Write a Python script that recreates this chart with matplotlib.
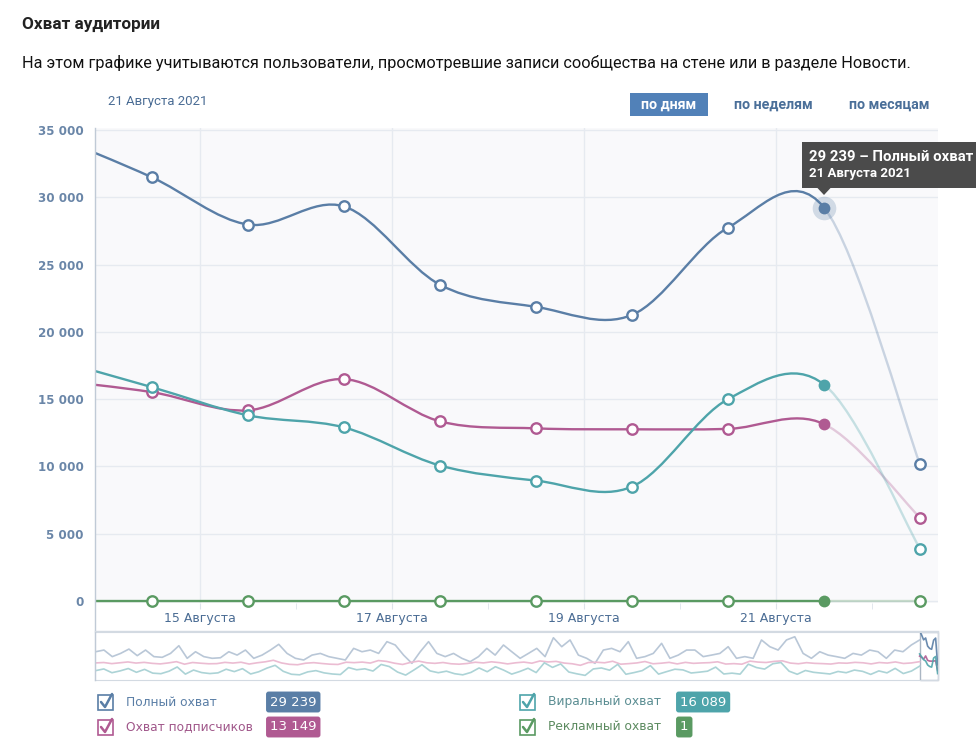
import matplotlib
matplotlib.use('Agg')
import matplotlib.pyplot as plt
import numpy as np
from matplotlib.path import Path
from matplotlib.patches import PathPatch, Rectangle, Polygon
from matplotlib.ticker import FuncFormatter, FixedLocator
from matplotlib.lines import Line2D

W, H = 976, 756

# main chart: one point per day (13..22 August), Aug 22 is incomplete
days = [13, 14, 15, 16, 17, 18, 19, 20, 21, 22]
full_reach = [34500, 31480, 27975, 29320, 23500, 21860, 21260, 27750, 29239, 10150]
subs_reach = [16400, 15520, 14170, 16490, 13350, 12830, 12760, 12790, 13149, 6190]
viral_reach = [17900, 15890, 13800, 12900, 10070, 8950, 8500, 15000, 16089, 3880]
ads_reach = [0, 0, 0, 0, 0, 0, 0, 0, 1, 0]

tick_days = [15, 17, 19, 21]
tick_labels = ['15 Августа', '17 Августа', '19 Августа', '21 Августа']
y_ticks = [0, 5000, 10000, 15000, 20000, 25000, 30000, 35000]

# overview strip (thousands), long history before the selected window
nav_full = [19.5, 20.7, 16.0, 18.3, 21.4, 16.7, 20.7, 16.0, 15.5, 18.3, 23.8, 14.8, 19.5, 16.0, 14.8,
            15.2, 19.5, 17.1, 20.7, 14.8, 17.1, 20.7, 24.8, 18.3, 14.8, 13.6, 17.1, 18.3, 16.0, 14.8,
            13.6, 21.9, 19.5, 20.7, 18.3, 26.7, 24.3,
            17.1, 11.2, 19.5, 26.7, 18.3, 16.0, 18.3, 14.8, 12.4, 16.0, 21.9, 17.1, 24.3, 19.5, 14.8,
            18.3, 21.9, 16.0, 29.5, 23.1, 27.9, 17.1, 14.8, 11.2, 20.7, 21.9, 19.5, 26.7, 14.8, 16.0,
            18.3, 25.5, 14.8, 17.1, 20.7,
            20.7, 16.0, 17.1, 18.3, 23.1, 14.8, 16.0, 14.8, 27.9, 23.1, 20.7, 27.9, 30.2, 18.3, 14.8,
            19.5, 17.1, 16.0, 14.8, 18.3, 17.1, 20.7, 19.5, 14.8, 20.7, 19.5, 24.3, 27.9]
nav_subs = [11.5, 11.8, 11.0, 11.6, 12.2, 11.4, 11.9, 11.2, 10.8, 11.5, 12.4, 10.6, 11.8, 11.3, 10.9,
            11.0, 11.9, 11.4, 12.0, 10.7, 11.6, 12.3, 13.4, 11.5, 10.5, 10.2, 11.3, 11.7, 11.1, 10.6,
            10.4, 12.0, 11.7, 12.1, 11.4, 13.2, 12.6,
            11.3, 10.4, 11.9, 12.8, 11.6, 11.2, 11.8, 10.9, 10.6, 11.1, 12.0, 11.5, 12.3, 11.7, 10.8,
            11.6, 12.1, 11.3, 12.9, 12.2, 12.6, 11.4, 10.9, 9.8, 11.8, 12.0, 11.6, 12.7, 10.6, 11.0,
            11.5, 12.5, 10.9, 11.3, 11.9,
            10.8, 11.9, 11.2, 11.5, 11.7, 12.3, 10.7, 11.0, 10.6, 12.8, 12.1, 11.8, 12.6, 13.0, 11.4,
            10.9, 11.7, 11.2, 11.0, 10.7, 11.5, 11.3, 11.9, 11.6, 10.8, 11.8, 11.4, 12.2, 11.1, 11.5, 12.4]
nav_viral = [6.0, 7.2, 4.5, 5.8, 7.5, 4.8, 6.9, 4.2, 3.8, 5.6, 8.6, 3.5, 6.4, 4.6, 3.9, 4.4, 7.0, 5.3,
             7.4, 3.6, 5.2, 7.8, 9.8, 5.5, 3.4, 3.0, 5.1, 6.0, 4.4, 3.6, 3.2, 8.2, 6.6, 7.3, 5.7, 10.4, 8.9,
             5.0, 2.8, 6.4, 10.2, 5.8, 4.5, 5.6, 3.8, 3.0, 4.7, 7.9, 5.2, 8.8, 6.4, 3.5, 5.4, 7.7, 4.6,
             11.6, 8.3, 10.8, 5.0, 3.7, 2.6, 7.2, 7.9, 6.3, 10.5, 3.4, 4.6, 6.0, 9.6, 3.5, 5.3, 7.0,
             6.5, 4.3, 4.9, 5.6, 8.5, 3.6, 4.2, 3.5, 10.6, 8.2, 7.1, 10.9, 11.8, 5.6, 3.4, 6.1, 4.8, 4.2,
             3.6, 5.4, 4.5, 6.4, 5.5, 3.3, 5.8, 4.4, 7.6, 3.9, 5.7, 9.2]

C_FULL = '#5a7ea6'
C_SUBS = '#b05a92'
C_VIRAL = '#4ea4aa'
C_ADS = '#5a9a62'


def fx(x):
    return x / W


def fy(y):
    return 1 - y / H


def spline(xs, ys, i0, i1):
    # catmull-rom through the points, drawn as bezier segments
    n = len(xs)
    verts = [(xs[i0], ys[i0])]
    codes = [Path.MOVETO]
    for i in range(i0, i1):
        p0 = max(i - 1, 0)
        p3 = min(i + 2, n - 1)
        c1 = (xs[i] + (xs[i + 1] - xs[p0]) / 6, ys[i] + (ys[i + 1] - ys[p0]) / 6)
        c2 = (xs[i + 1] - (xs[p3] - xs[i]) / 6, ys[i + 1] - (ys[p3] - ys[i]) / 6)
        verts += [c1, c2, (xs[i + 1], ys[i + 1])]
        codes += [Path.CURVE4] * 3
    return Path(verts, codes)


plt.rcParams['font.family'] = ['DejaVu Sans']
fig = plt.figure(figsize=(W / 100, H / 100), dpi=100)

# header
fig.text(fx(22), fy(24), 'Охват аудитории', fontsize=12.3, family='Roboto', weight='bold',
         color='#222222', va='center')
fig.text(fx(22), fy(63), 'На этом графике учитываются пользователи, просмотревшие записи сообщества на стене или в разделе Новости.',
         fontsize=11.7, family='Roboto', color='#111111', va='center')
fig.text(fx(108), fy(101), '21 Августа 2021', fontsize=9.5, family='Roboto', color='#4a6c94', va='center')

fig.patches.append(Rectangle((fx(630), fy(116)), fx(78), 23 / H, transform=fig.transFigure,
                             facecolor='#5181b8', edgecolor='none'))
fig.text(fx(669), fy(105), 'по дням', fontsize=10.3, family='Roboto', weight='bold', color='white',
         ha='center', va='center')
fig.text(fx(773), fy(105), 'по неделям', fontsize=10.3, family='Roboto', weight='bold', color='#4a6f99',
         ha='center', va='center')
fig.text(fx(889), fy(105), 'по месяцам', fontsize=10.3, family='Roboto', weight='bold', color='#4a6f99',
         ha='center', va='center')

# main chart
ax = fig.add_axes([fx(95), fy(602.5), (938 - 95) / W, (602.5 - 128) / H])
ax.set_facecolor('#f9f9fb')
ax.set_axisbelow(True)
x = np.array(days) + 0.5
ax.set_xlim(13.906, 22.6875)
ax.set_ylim(-110, 35150)
for s in ax.spines.values():
    s.set_visible(False)
ax.yaxis.set_major_locator(FixedLocator(y_ticks))
ax.yaxis.set_major_formatter(FuncFormatter(lambda v, p: f'{int(v):,}'.replace(',', ' ')))
ax.set_xticks(tick_days)
ax.set_xticklabels(tick_labels)
ax.set_xticks([16, 18, 20, 22], minor=True)
ax.grid(True, axis='both', color='#e6eaf0', lw=1)
ax.tick_params(axis='y', length=0, pad=8, labelsize=8.6, labelcolor='#6a86a8')
ax.tick_params(axis='x', which='both', length=4, color='#dde3ea', pad=3, labelsize=9, labelcolor='#4a6c94')
for lab in ax.get_yticklabels():
    lab.set_fontweight('bold')

series = [(full_reach, C_FULL), (subs_reach, C_SUBS), (viral_reach, C_VIRAL), (ads_reach, C_ADS)]
last = len(days) - 2  # index of the last complete day
for vals, col in series:
    ax.add_patch(PathPatch(spline(x, vals, 0, last), fill=False, edgecolor=col, lw=1.7,
                           capstyle='round', joinstyle='round', zorder=3))
    ax.add_patch(PathPatch(spline(x, vals, last, len(x) - 1), fill=False, edgecolor=col, lw=1.7,
                           alpha=0.3, capstyle='round', zorder=3))
for vals, col in series:
    keep = [i for i in range(1, len(x)) if i != last]
    ax.plot(x[keep], np.array(vals)[keep], 'o', ms=7.5, mfc='white', mec=col, mew=1.7,
            clip_on=False, zorder=5)
    if col == C_FULL:
        ax.plot(x[last], vals[last], 'o', ms=17, color=col, alpha=0.25, mew=0, clip_on=False, zorder=5)
    ax.plot(x[last], vals[last], 'o', ms=8.5, color=col, mew=0, clip_on=False, zorder=6)

# frame lines around chart and overview
fig.add_artist(Line2D([fx(95), fx(95)], [fy(128), fy(680)], color='#c0cad6', lw=1))
fig.add_artist(Line2D([fx(95), fx(938)], [fy(631), fy(631)], color='#d3dae2', lw=1))

# overview strip
nav = fig.add_axes([fx(95), fy(680), (938 - 95) / W, (680 - 632) / H])
nav.set_xlim(22.6875 - 421.5, 22.6875)
nav.set_ylim(-700, 33600)
nav.set_xticks([])
nav.set_yticks([])
for s in nav.spines.values():
    s.set_color('#d3dae2')
for vals, col in [(nav_full, '#b9c7d7'), (nav_subs, '#ebbcd2'), (nav_viral, '#acd3d6')]:
    nx = np.linspace(-398.5, 13.5, len(vals))
    nav.plot(nx, np.array(vals) * 1000, color=col, lw=1.2)
for vals, col in series[:3]:
    nav.plot(x, vals, color=col, lw=1.2, alpha=0.9)
nav.add_patch(Rectangle((13.906, -700), 22.6875 - 13.906, 34300, fill=False, edgecolor='#aab6c3', lw=1,
                        clip_on=False))

# tooltip
fig.patches.append(Rectangle((fx(802), fy(188)), fx(200), 46 / H, transform=fig.transFigure,
                             facecolor='#4b4b4b', edgecolor='none'))
fig.patches.append(Polygon([(fx(817), fy(187.5)), (fx(831), fy(187.5)), (fx(824), fy(195))],
                           transform=fig.transFigure, facecolor='#4b4b4b', edgecolor='none'))
fig.text(fx(809), fy(157), '29 239 – Полный охват', fontsize=10.7, family='Roboto', weight='bold',
         color='white', va='center')
fig.text(fx(809), fy(174), '21 Августа 2021', fontsize=9.5, family='Roboto', weight='bold',
         color='white', va='center')

# legend
legend_rows = [
    (98, 702, 'Полный охват', C_FULL, '#5a7ea6', 266, '29 239'),
    (98, 727, 'Охват подписчиков', C_SUBS, '#a0578a', 266, '13 149'),
    (520, 702, 'Виральный охват', C_VIRAL, '#5a8d92', 676, '16 089'),
    (520, 727, 'Рекламный охват', C_ADS, '#5b8a5f', 676, '1'),
]
for bx, by, label, col, tcol, badge_x, value in legend_rows:
    fig.patches.append(Rectangle((fx(bx), fy(by + 8)), 15 / W, 15 / H, transform=fig.transFigure,
                                 fill=False, edgecolor=col, lw=1.2))
    fig.add_artist(Line2D([fx(bx + 3), fx(bx + 7), fx(bx + 14)], [fy(by), fy(by + 5), fy(by - 8)],
                          color=col, lw=1.8, solid_capstyle='round', solid_joinstyle='round'))
    fig.text(fx(bx + 28), fy(by), label, fontsize=8.8, color=tcol, va='center')
    fig.text(fx(badge_x + 4), fy(by), value, fontsize=9.5, color='white', va='center',
             bbox=dict(boxstyle='round,pad=0.3,rounding_size=0.2', facecolor=col, edgecolor='none'))

fig.savefig('out.png', dpi=100)
